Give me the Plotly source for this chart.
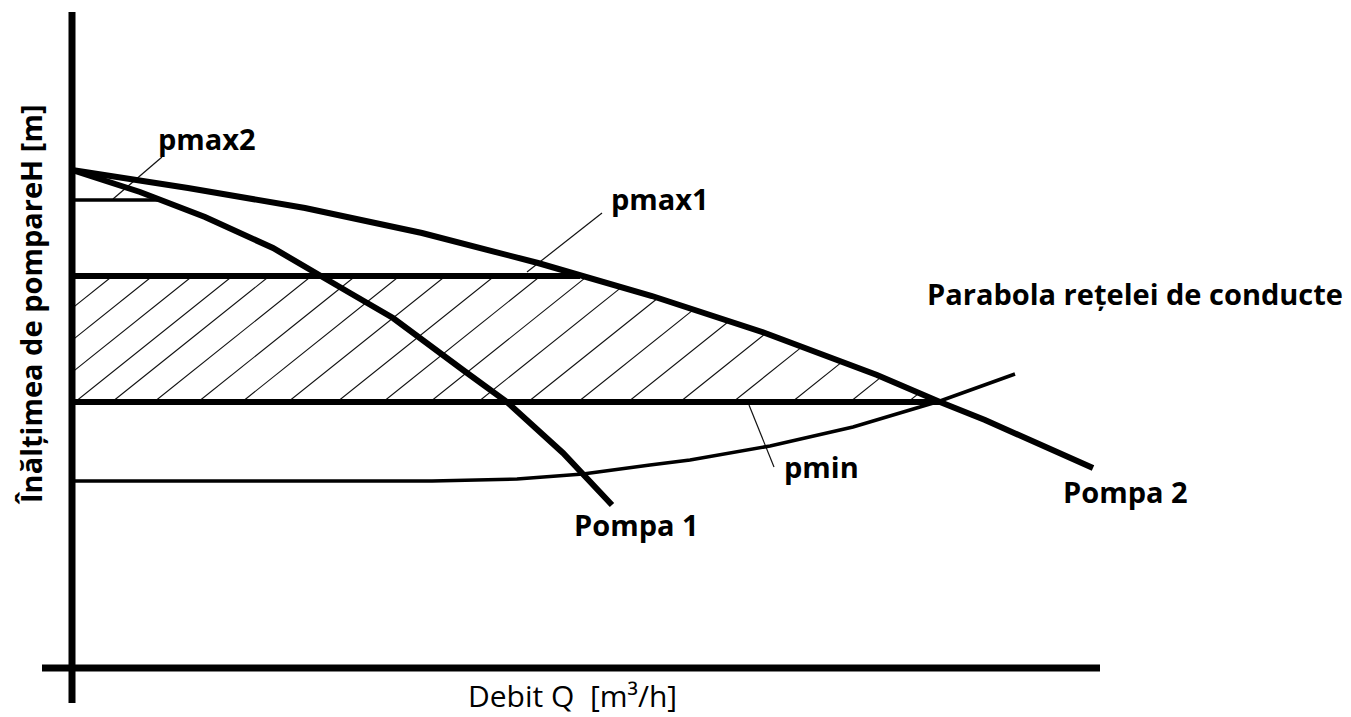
import numpy as np
import plotly.graph_objects as go

# ---- data (Q in relative flow units, H in relative head units) ----
pump1_q = [0, 6.8, 13.3, 20.1, 27.8, 32.1, 39.1, 43.5, 49.1, 54.0]
pump1_h = [49.8, 47.6, 45.1, 42.0, 37.5, 35.0, 29.8, 26.6, 21.5, 16.3]

pump2_q = [0, 11.6, 23.3, 35.0, 46.6, 50.8, 58.0, 69.3, 80.5, 86.8, 91.3, 102.1]
pump2_h = [49.8, 48.0, 46.0, 43.5, 40.5, 39.3, 37.2, 33.5, 29.3, 26.6, 24.8, 20.0]

system_q = [0, 36.0, 44.5, 51.1, 57.8, 61.8, 69.8, 78.1, 86.8, 94.3]
system_h = [18.7, 18.7, 18.9, 19.4, 20.3, 20.8, 22.2, 24.1, 26.7, 29.4]

pmax2_q = [0, 8.6]
pmax2_h = [46.8, 46.8]
pmax1_q = [0, 50.8]
pmax1_h = [39.2, 39.2]
pmin_q = [0, 86.8]
pmin_h = [26.6, 26.6]

# leader lines for the labels
lead_pmax2 = ([9.0, 4.1], [51.1, 46.9])
lead_pmax1 = ([53.0, 45.5], [45.5, 39.6])
lead_pmin = ([67.7, 70.2], [26.3, 20.1])

# hatch line foot positions on the pmin line
hatch_base_q = [-15.7, -11.7, -7.7, -3.7, 0.3, 4.0, 8.2, 12.6, 17.0, 21.6, 26.5,
                31.1, 35.8, 40.6, 45.6, 50.6, 55.6, 60.8, 66.1, 72.0, 77.8, 83.6]
HATCH_SLOPE = 0.8

labels = ["pmax2", "pmax1", "Parabola rețelei de conducte", "pmin", "Pompa 1", "Pompa 2"]
label_pos = [(13.5, 53.0), (58.8, 47.0), (106.3, 37.5), (74.9, 20.2), (56.4, 14.4), (105.3, 17.7)]

x_title = "Debit Q  [m³/h]"
y_title = "Înălțimea de pompareH [m]"

# ---- figure ----
fig = go.Figure()
BLACK = "#000000"


def add_line(xs, ys, w, color=BLACK):
    fig.add_trace(go.Scatter(x=xs, y=ys, mode="lines", hoverinfo="skip",
                             line=dict(color=color, width=w), showlegend=False))


# hatching, clipped to the area between pmin, pmax1 and pump 2 curve
h_lo, h_hi = pmin_h[0], pmax1_h[0]
hx, hy = [], []
for qb in hatch_base_q:
    q1 = qb + (h_hi - h_lo) / HATCH_SLOPE
    qs = np.linspace(qb, q1, 3000)
    hs = h_lo + (qs - qb) * HATCH_SLOPE
    mask = (qs >= 0) & (hs <= np.interp(qs, pump2_q, pump2_h))
    if mask.sum() < 2:
        continue
    idx = np.where(mask)[0]
    hx += [qs[idx[0]], qs[idx[-1]], None]
    hy += [hs[idx[0]], hs[idx[-1]], None]
add_line(hx, hy, 1.1, "#111111")

# leader lines
for lx, ly in (lead_pmax2, lead_pmax1, lead_pmin):
    add_line(lx, ly, 1.2, "#111111")

# horizontal pressure lines
add_line(pmax2_q, pmax2_h, 3.5)
add_line(pmax1_q, pmax1_h, 6)
add_line(pmin_q, pmin_h, 6)

# system parabola
add_line(system_q, system_h, 3.5)

# pump curves
add_line(pump1_q, pump1_h, 6)
add_line(pump2_q, pump2_h, 6)

# axis lines (drawn as thick strokes like the reference)
AX_W = 7
fig.add_shape(type="line", x0=0, x1=0, y0=-3.5, y1=65.6, xref="x", yref="y",
              line=dict(color=BLACK, width=AX_W))
fig.add_shape(type="line", x0=-3.0, x1=102.8, y0=0, y1=0, xref="x", yref="y",
              line=dict(color=BLACK, width=AX_W))

LABEL_FONT = dict(family="Open Sans", size=29, color=BLACK, weight="bold")
for txt, (qx, hy_) in zip(labels, label_pos):
    fig.add_annotation(x=qx, y=hy_, text=txt, showarrow=False, xanchor="center",
                       yanchor="middle", font=LABEL_FONT)

fig.add_annotation(x=50.0, y=0, yref="paper", text=x_title, showarrow=False,
                   xanchor="center", yanchor="bottom", borderpad=0,
                   font=dict(family="Open Sans", size=30, color=BLACK))
fig.add_annotation(x=-4.2, y=36.3, text=y_title, showarrow=False, textangle=-90,
                   xanchor="center", yanchor="middle", font=LABEL_FONT)

fig.update_layout(
    width=1351, height=717,
    margin=dict(l=0, r=0, t=0, b=0),
    plot_bgcolor="white", paper_bgcolor="white",
    xaxis=dict(range=[-7.2, 127.9], visible=False, fixedrange=True),
    yaxis=dict(range=[-4.9, 66.8], visible=False, fixedrange=True),
    showlegend=False,
)

fig.write_html("out.html", config={"displayModeBar": False},
               post_script="document.body.style.margin='0';")
